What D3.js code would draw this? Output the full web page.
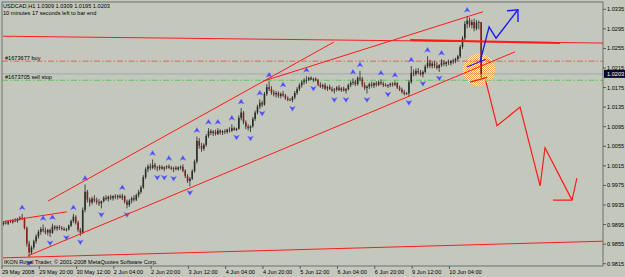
<!DOCTYPE html>
<html>
<head>
<meta charset="utf-8">
<script src="https://d3js.org/d3.v7.min.js"></script>
<style>
  body { margin: 0; background: #c4c8bc; }
  text { font-family: 'Liberation Sans', Arial, sans-serif; }
</style>
</head>
<body>
<div id="chart"></div>
<script>
// USDCAD H1 bars, 29 May 2008 04:00 -> 10 Jun 2008 17:00
let opens = [
  .9896,.9899,.9897,.9901,.9900,.9903,.9902,.9906,.9909,.9907,
  .9888,.9856,.9838,.9848,.9861,.9871,.9880,.9886,.9883,.9879,
  .9884,.9878,.9891,.9887,.9890,.9888,.9886,.9884,.9885,.9893,
  .9902,.9911,.9899,.9884,.9878,.9925,.9962,.9946,.9940,.9948,
  .9944,.9941,.9938,.9943,.9950,.9947,.9952,.9949,.9953,.9951,
  .9954,.9950,.9953,.9942,.9935,.9944,.9949,.9946,.9955,.9962,
  .9971,.9992,1.0008,1.0014,1.0011,1.0017,1.0012,1.0010,1.0013,1.0009,
  1.0012,1.0014,1.0011,1.0009,1.0011,1.0008,1.0012,1.0013,1.0005,.9994,
  .9984,.9989,1.0004,1.0024,1.0066,1.0056,1.0050,1.0058,1.0076,1.0086,
  1.0082,1.0085,1.0080,1.0087,1.0083,1.0086,1.0084,1.0089,1.0087,1.0092,
  1.0088,1.0091,1.0113,1.0124,1.0104,1.0095,1.0092,1.0096,1.0111,1.0124,
  1.0136,1.0144,1.0140,1.0162,1.0176,1.0172,1.0165,1.0161,1.0164,1.0158,
  1.0162,1.0159,1.0153,1.0150,1.0149,1.0155,1.0164,1.0172,1.0180,1.0186,
  1.0189,1.0191,1.0195,1.0191,1.0193,1.0190,1.0181,1.0177,1.0180,1.0173,
  1.0176,1.0172,1.0169,1.0171,1.0175,1.0170,1.0173,1.0169,1.0172,1.0180,
  1.0185,1.0187,1.0182,1.0195,1.0192,1.0180,1.0174,1.0177,1.0182,1.0179,
  1.0184,1.0181,1.0186,1.0183,1.0180,1.0178,1.0180,1.0183,1.0181,1.0184,
  1.0175,1.0171,1.0166,1.0162,1.0163,1.0186,1.0205,1.0203,1.0209,1.0206,
  1.0202,1.0207,1.0218,1.0226,1.0219,1.0224,1.0220,1.0215,1.0221,1.0226,
  1.0223,1.0227,1.0225,1.0229,1.0230,1.0233,1.0239,1.0258,1.0276,1.0305,
  1.0312,1.0303,1.0309,1.0296,1.0308,1.0309
]
let highs = [
  .9902,.9903,.9904,.9905,.9906,.9908,.9909,.9912,.9917,.9910,
  .9891,.9862,.9852,.9864,.9875,.9884,.9890,.9895,.9889,.9886,
  .9887,.9897,.9894,.9893,.9894,.9892,.9890,.9888,.9895,.9905,
  .9917,.9914,.9903,.9888,.9930,.9977,.9966,.9950,.9952,.9955,
  .9950,.9947,.9944,.9953,.9955,.9954,.9956,.9955,.9957,.9956,
  .9957,.9958,.9955,.9946,.9947,.9952,.9955,.9958,.9966,.9975,
  .9996,1.0012,1.0018,1.0020,1.0028,1.0021,1.0015,1.0017,1.0016,1.0014,
  1.0016,1.0018,1.0015,1.0013,1.0015,1.0014,1.0016,1.0018,1.0008,.9998,
  .9992,1.0008,1.0028,1.0075,1.0072,1.0062,1.0061,1.0080,1.0092,1.0090,
  1.0088,1.0089,1.0092,1.0090,1.0088,1.0090,1.0091,1.0094,1.0100,1.0095,
  1.0093,1.0118,1.0133,1.0127,1.0108,1.0100,1.0098,1.0115,1.0128,1.0140,
  1.0151,1.0148,1.0166,1.0182,1.0188,1.0178,1.0170,1.0168,1.0167,1.0165,
  1.0168,1.0162,1.0157,1.0154,1.0158,1.0168,1.0176,1.0184,1.0190,1.0194,
  1.0198,1.0197,1.0198,1.0195,1.0196,1.0193,1.0186,1.0183,1.0184,1.0179,
  1.0181,1.0177,1.0174,1.0178,1.0180,1.0176,1.0177,1.0174,1.0183,1.0188,
  1.0194,1.0191,1.0198,1.0209,1.0197,1.0186,1.0180,1.0185,1.0187,1.0186,
  1.0188,1.0189,1.0192,1.0187,1.0184,1.0182,1.0185,1.0186,1.0188,1.0186,
  1.0179,1.0175,1.0170,1.0166,1.0190,1.0219,1.0212,1.0214,1.0215,1.0211,
  1.0210,1.0222,1.0239,1.0232,1.0228,1.0230,1.0227,1.0223,1.0233,1.0231,
  1.0229,1.0232,1.0231,1.0234,1.0236,1.0242,1.0262,1.0280,1.0311,1.0321,
  1.0318,1.0314,1.0316,1.0313,1.0312,1.0309
]
let lows = [
  .9893,.9895,.9894,.9898,.9897,.9900,.9899,.9903,.9904,.9885,
  .9850,.9829,.9833,.9844,.9856,.9866,.9874,.9879,.9875,.9873,
  .9870,.9876,.9883,.9882,.9884,.9883,.9882,.9881,.9883,.9890,
  .9898,.9895,.9880,.9872,.9876,.9920,.9940,.9932,.9936,.9940,
  .9936,.9933,.9928,.9940,.9944,.9942,.9945,.9944,.9947,.9946,
  .9948,.9945,.9938,.9928,.9931,.9938,.9942,.9943,.9950,.9958,
  .9968,.9988,1.0002,1.0006,1.0008,1.0007,1.0004,1.0006,1.0007,1.0004,
  1.0008,1.0009,1.0006,1.0002,1.0006,1.0005,1.0007,1.0002,.9990,.9980,
  .9973,.9986,1.0001,1.0020,1.0050,1.0044,1.0046,1.0054,1.0072,1.0078,
  1.0076,1.0077,1.0078,1.0079,1.0078,1.0080,1.0081,1.0083,1.0084,1.0087,
  1.0086,1.0089,1.0108,1.0100,1.0090,1.0087,1.0084,1.0093,1.0107,1.0120,
  1.0131,1.0135,1.0138,1.0158,1.0168,1.0160,1.0157,1.0155,1.0154,1.0153,
  1.0156,1.0150,1.0147,1.0148,1.0145,1.0151,1.0160,1.0168,1.0175,1.0181,
  1.0183,1.0188,1.0190,1.0186,1.0188,1.0178,1.0174,1.0172,1.0170,1.0168,
  1.0170,1.0166,1.0163,1.0167,1.0168,1.0166,1.0167,1.0163,1.0169,1.0176,
  1.0180,1.0178,1.0179,1.0188,1.0176,1.0170,1.0163,1.0172,1.0175,1.0174,
  1.0177,1.0178,1.0180,1.0176,1.0177,1.0174,1.0176,1.0177,1.0178,1.0172,
  1.0168,1.0163,1.0159,1.0160,1.0157,1.0183,1.0198,1.0199,1.0202,1.0199,
  1.0196,1.0204,1.0214,1.0215,1.0214,1.0215,1.0212,1.0207,1.0217,1.0219,
  1.0218,1.0221,1.0220,1.0223,1.0225,1.0228,1.0235,1.0254,1.0272,1.0296,
  1.0298,1.0296,1.0290,1.0292,1.0294,1.0195
]
let closes = [
  .9899,.9897,.9901,.9900,.9903,.9902,.9906,.9909,.9907,.9888,
  .9856,.9838,.9848,.9861,.9871,.9880,.9886,.9883,.9879,.9884,
  .9878,.9891,.9887,.9890,.9888,.9886,.9884,.9885,.9893,.9902,
  .9911,.9899,.9884,.9878,.9925,.9962,.9946,.9940,.9948,.9944,
  .9941,.9938,.9943,.9950,.9947,.9952,.9949,.9953,.9951,.9954,
  .9950,.9953,.9942,.9935,.9944,.9949,.9946,.9955,.9962,.9971,
  .9992,1.0008,1.0014,1.0011,1.0017,1.0012,1.0010,1.0013,1.0009,1.0012,
  1.0014,1.0011,1.0009,1.0011,1.0008,1.0012,1.0013,1.0005,.9994,.9984,
  .9989,1.0004,1.0024,1.0066,1.0056,1.0050,1.0058,1.0076,1.0086,1.0082,
  1.0085,1.0080,1.0087,1.0083,1.0086,1.0084,1.0089,1.0087,1.0092,1.0088,
  1.0091,1.0113,1.0124,1.0104,1.0095,1.0092,1.0096,1.0111,1.0124,1.0136,
  1.0144,1.0140,1.0162,1.0176,1.0172,1.0165,1.0161,1.0164,1.0158,1.0162,
  1.0159,1.0153,1.0150,1.0149,1.0155,1.0164,1.0172,1.0180,1.0186,1.0189,
  1.0191,1.0195,1.0191,1.0193,1.0190,1.0181,1.0177,1.0180,1.0173,1.0176,
  1.0172,1.0169,1.0171,1.0175,1.0170,1.0173,1.0169,1.0172,1.0180,1.0185,
  1.0187,1.0182,1.0195,1.0192,1.0180,1.0174,1.0177,1.0182,1.0179,1.0184,
  1.0181,1.0186,1.0183,1.0180,1.0178,1.0180,1.0183,1.0181,1.0184,1.0175,
  1.0171,1.0166,1.0162,1.0163,1.0186,1.0205,1.0203,1.0209,1.0206,1.0202,
  1.0207,1.0218,1.0226,1.0219,1.0224,1.0220,1.0215,1.0221,1.0226,1.0223,
  1.0227,1.0225,1.0229,1.0230,1.0233,1.0239,1.0258,1.0276,1.0305,1.0312,
  1.0303,1.0309,1.0296,1.0308,1.0309,1.0203
]

// fractal bars (bar index)
let fractalUp = [8, 17, 21, 30, 35, 51, 64, 71, 77, 83, 88, 92, 98, 102, 110, 114, 120, 130, 150, 153, 162, 168, 175, 182, 188, 199]
let fractalDown = [11, 20, 27, 33, 42, 53, 66, 69, 73, 80, 100, 106, 111, 124, 133, 142, 147, 156, 165, 174, 180, 187]

// time axis labels, one every 16 bars
let timeTicks = [0, 16, 32, 48, 64, 80, 96, 112, 128, 144, 160, 176, 192]
let timeLabels = ['29 May 2008', '29 May 20:00', '30 May 12:00', '2 Jun 04:00', '2 Jun 20:00', '3 Jun 12:00',
  '4 Jun 04:00', '4 Jun 20:00', '5 Jun 12:00', '6 Jun 04:00', '6 Jun 20:00', '9 Jun 12:00', '10 Jun 04:00']

// price axis labels
let priceTicks = [1.0335, 1.0295, 1.0255, 1.0215, 1.0175, 1.0135, 1.0095, 1.0055, 1.0015, 0.9975, 0.9935, 0.9895, 0.9855, 0.9815]
let bid = 1.0203

// order lines
let buyPrice = 1.0229
let sellStopPrice = 1.0190

// drawn objects, [bar, price]
let redTrends = [
  [[-0.2, 0.9901], [27.1, 0.9921]],
  [[19.1, 0.9943], [141.8, 1.0268]],
  [[10.5, 0.9831], [219.5, 1.0248]],
  [[111.4, 1.0188], [205.8, 1.0330]],
  [[-0.2, 1.0280], [257.3, 1.0266]],
  [[-0.2, 0.9827], [257.3, 0.9861]]
]
let redThick = [[174.5, 1.0272], [238.8, 1.0266]]
let redShort = [[200.2, 1.0186], [207.5, 1.0196]]
let redPath = [[207.0, 1.0188], [211.8, 1.0097], [221.7, 1.0135], [230.3, 0.9974], [232.4, 1.0052], [244.0, 0.9945]]
let redHead = [[235.8, 0.9945], [244.0, 0.9945], [246.1, 0.9990]]
let bluePath = [[204.5, 1.0227], [208.4, 1.0299], [211.4, 1.0276], [220.8, 1.0334]]
let blueHead = [[216.1, 1.0332], [220.8, 1.0334], [220.8, 1.0309]]
let blueShort = [[198.9, 1.0217], [207.1, 1.0233]]
let ellipseCenter = [204.1, 1.0211]

let width = 625
let height = 277
let plot = { left: 2, right: 603, top: 2, bottom: 266 }

let svg = d3
  .select('#chart')
  .append('svg')
  .attr('width', width)
  .attr('height', height)

svg.append('rect').attr('width', width).attr('height', height).attr('fill', '#c4c8bc')

let defs = svg.append('defs')
let pat = defs
  .append('pattern')
  .attr('id', 'dither')
  .attr('width', 2)
  .attr('height', 2)
  .attr('patternUnits', 'userSpaceOnUse')
pat.append('rect').attr('width', 2).attr('height', 2).attr('fill', '#ffffff')
pat.append('rect').attr('width', 1).attr('height', 1).attr('fill', '#ff9a3c')
pat.append('rect').attr('x', 1).attr('y', 1).attr('width', 1).attr('height', 1).attr('fill', '#ff9a3c')

defs.append('clipPath').attr('id', 'clip')
  .append('rect')
  .attr('x', plot.left)
  .attr('y', plot.top)
  .attr('width', plot.right - plot.left)
  .attr('height', plot.bottom - plot.top)

// scales
let xScale = d3.scaleLinear().domain([0, 205]).range([3.5, 3.5 + 2.33 * 205])
let yScale = d3.scaleLinear().domain([0.9815, 1.0335]).range([263.7, 9.3])

let bars = d3.range(closes.length).map(i => ({
  i: i, o: opens[i], h: highs[i], l: lows[i], c: closes[i]
}))

let line = d3.line().x(d => xScale(d[0])).y(d => yScale(d[1]))

let g = svg.append('g').attr('clip-path', 'url(#clip)')

// dithered circle
g.append('circle')
  .attr('cx', xScale(ellipseCenter[0]))
  .attr('cy', yScale(ellipseCenter[1]))
  .attr('r', 16)
  .attr('fill', 'url(#dither)')
  .attr('opacity', 0.9)

// horizontal price lines
g.append('line')
  .attr('x1', plot.left).attr('x2', plot.right)
  .attr('y1', yScale(buyPrice)).attr('y2', yScale(buyPrice))
  .attr('stroke', '#e84848')
  .attr('stroke-width', 0.8)
  .attr('stroke-dasharray', '6,2,1.5,2')

g.append('line')
  .attr('x1', plot.left).attr('x2', plot.right)
  .attr('y1', yScale(bid)).attr('y2', yScale(bid))
  .attr('stroke', '#9aa0a8')
  .attr('stroke-width', 0.8)

g.append('line')
  .attr('x1', plot.left).attr('x2', plot.right)
  .attr('y1', yScale(sellStopPrice)).attr('y2', yScale(sellStopPrice))
  .attr('stroke', '#3cc83c')
  .attr('stroke-width', 0.8)
  .attr('stroke-dasharray', '6,2,1.5,2')

// candles
let candle = g.selectAll('.bar')
  .data(bars)
  .enter()
  .append('g')
  .attr('class', 'bar')

candle.append('line')
  .attr('x1', d => xScale(d.i))
  .attr('x2', d => xScale(d.i))
  .attr('y1', d => yScale(d.h))
  .attr('y2', d => yScale(d.l))
  .attr('stroke', '#101010')
  .attr('stroke-width', 0.7)

candle.append('rect')
  .attr('x', d => xScale(d.i) - 0.8)
  .attr('width', 1.6)
  .attr('y', d => yScale(Math.max(d.o, d.c)))
  .attr('height', d => Math.max(0.8, Math.abs(yScale(d.o) - yScale(d.c))))
  .attr('fill', d => (d.c >= d.o ? '#26302a' : '#8a1f1f'))

// fractal arrows
let upArrow = 'M0,-3 L3,2 L0,0.8 L-3,2 Z'
let downArrow = 'M0,3 L3,-2 L0,-0.8 L-3,-2 Z'

g.selectAll('.frac-up')
  .data(fractalUp)
  .enter()
  .append('path')
  .attr('class', 'frac-up')
  .attr('d', upArrow)
  .attr('transform', i => `translate(${xScale(i)},${yScale(highs[i]) - 6})`)
  .attr('fill', '#4a4af5')
  .attr('stroke', '#8080ff')
  .attr('stroke-width', 0.4)

g.selectAll('.frac-down')
  .data(fractalDown)
  .enter()
  .append('path')
  .attr('class', 'frac-down')
  .attr('d', downArrow)
  .attr('transform', i => `translate(${xScale(i)},${yScale(lows[i]) + 6})`)
  .attr('fill', '#4a4af5')
  .attr('stroke', '#8080ff')
  .attr('stroke-width', 0.4)

// trend lines
g.selectAll('.trend')
  .data(redTrends)
  .enter()
  .append('path')
  .attr('class', 'trend')
  .attr('d', line)
  .attr('fill', 'none')
  .attr('stroke', '#ff1a1a')
  .attr('stroke-width', 1)

g.append('path').attr('d', line(redThick)).attr('fill', 'none').attr('stroke', '#ff1a1a').attr('stroke-width', 2)
g.append('path').attr('d', line(redShort)).attr('fill', 'none').attr('stroke', '#ff1a1a').attr('stroke-width', 1.2)
g.append('path').attr('d', line(redPath)).attr('fill', 'none').attr('stroke', '#ff1a1a').attr('stroke-width', 1.2)
g.append('path').attr('d', line(redHead)).attr('fill', 'none').attr('stroke', '#ff1a1a').attr('stroke-width', 1.2)
g.append('path').attr('d', line(bluePath)).attr('fill', 'none').attr('stroke', '#1a1aff').attr('stroke-width', 1.4)
g.append('path').attr('d', line(blueHead)).attr('fill', 'none').attr('stroke', '#1a1aff').attr('stroke-width', 1.4)
g.append('path').attr('d', line(blueShort)).attr('fill', 'none').attr('stroke', '#1a1aff').attr('stroke-width', 1.2)

// texts inside chart
let fs = 5.6
svg.append('text').attr('x', 3).attr('y', 8).attr('font-size', fs).attr('fill', '#000')
  .text('USDCAD,H1  1.0309 1.0309 1.0195 1.0203')
svg.append('text').attr('x', 3).attr('y', 14.5).attr('font-size', fs).attr('fill', '#000')
  .text('10 minutes 17 seconds left to bar end')
svg.append('text').attr('x', 5).attr('y', yScale(buyPrice) - 1.5).attr('font-size', fs).attr('fill', '#000')
  .text('#1673677 buy')
svg.append('text').attr('x', 5).attr('y', yScale(sellStopPrice) - 1.5).attr('font-size', fs).attr('fill', '#000')
  .text('#1673705 sell stop')
svg.append('text').attr('x', 4).attr('y', 263.5).attr('font-size', fs).attr('fill', '#000')
  .text('IKON Royal Trader, \u00a9 2001-2008 MetaQuotes Software Corp.')

// frame
svg.append('rect')
  .attr('x', plot.left).attr('y', plot.top)
  .attr('width', plot.right - plot.left)
  .attr('height', plot.bottom - plot.top)
  .attr('fill', 'none')
  .attr('stroke', '#5a5a5a')
  .attr('stroke-width', 0.8)

// price axis
let yAxis = svg.append('g')
yAxis.selectAll('.ptick')
  .data(priceTicks)
  .enter()
  .append('line')
  .attr('x1', plot.right).attr('x2', plot.right + 3)
  .attr('y1', d => yScale(d)).attr('y2', d => yScale(d))
  .attr('stroke', '#333')
  .attr('stroke-width', 0.7)
yAxis.selectAll('.plabel')
  .data(priceTicks)
  .enter()
  .append('text')
  .attr('x', plot.right + 4)
  .attr('y', d => yScale(d) + 2)
  .attr('font-size', fs)
  .attr('fill', '#000')
  .text(d => d.toFixed(4))

yAxis.append('rect')
  .attr('x', plot.right + 1)
  .attr('y', yScale(bid) - 4)
  .attr('width', 22)
  .attr('height', 8)
  .attr('fill', '#0a0a2a')
yAxis.append('text')
  .attr('x', plot.right + 4)
  .attr('y', yScale(bid) + 2)
  .attr('font-size', fs)
  .attr('fill', '#fff')
  .text(bid.toFixed(4))

// time axis
let xAxis = svg.append('g')
xAxis.selectAll('.ttick')
  .data(timeTicks)
  .enter()
  .append('line')
  .attr('x1', d => xScale(d) - 1.5).attr('x2', d => xScale(d) - 1.5)
  .attr('y1', plot.bottom).attr('y2', plot.bottom + 3)
  .attr('stroke', '#333')
  .attr('stroke-width', 0.7)
xAxis.selectAll('.tlabel')
  .data(timeTicks)
  .enter()
  .append('text')
  .attr('x', d => xScale(d) - 1.5)
  .attr('y', 273.5)
  .attr('font-size', fs)
  .attr('fill', '#000')
  .text((d, k) => timeLabels[k])
</script>
</body>
</html>
